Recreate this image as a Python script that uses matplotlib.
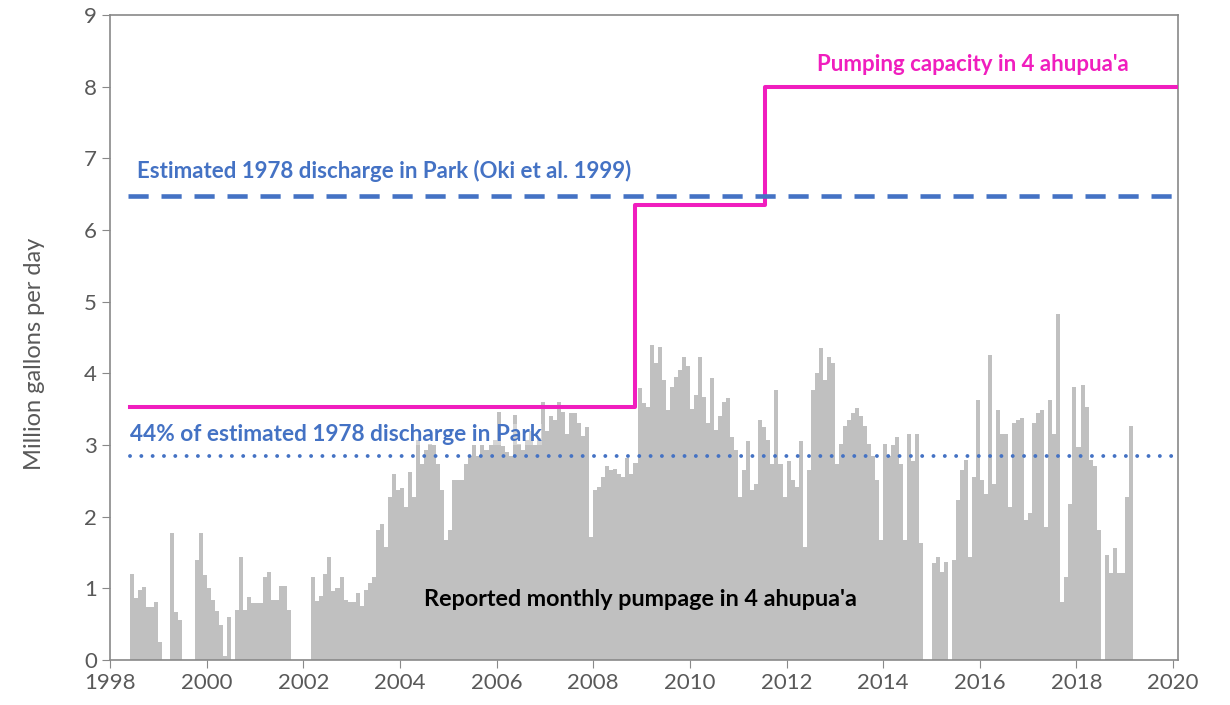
import numpy as np
import matplotlib
matplotlib.use('Agg')
import matplotlib.pyplot as plt

plt.rcParams['font.family'] = ['Lato', 'DejaVu Sans']

# monthly pumpage, first value is June 1998 (0 = no report)
start_year = 1998
start_month = 6
pumpage = [
    1.2, 0.86, 0.97, 1.02, 0.74, 0.74, 0.81,                                  # 1998
    0.25, 0, 0, 1.77, 0.67, 0.56, 0, 0, 0, 1.39, 1.77, 1.19,                  # 1999
    1.0, 0.84, 0.68, 0.49, 0.05, 0.6, 0, 0.7, 1.44, 0.7, 0.88, 0.8,           # 2000
    0.8, 0.8, 1.16, 1.23, 0.84, 0.84, 1.03, 1.03, 0.7, 0, 0, 0,               # 2001
    0, 0, 1.16, 0.82, 0.9, 1.2, 1.44, 0.96, 1.0, 1.16, 0.84, 0.81,            # 2002
    0.81, 0.93, 0.76, 0.98, 1.07, 1.16, 1.81, 1.9, 1.58, 2.28, 2.6, 2.37,     # 2003
    2.4, 2.14, 2.63, 2.28, 3.07, 2.74, 2.93, 3.02, 3.0, 2.74, 2.37, 1.67,     # 2004
    1.81, 2.51, 2.51, 2.51, 2.74, 2.84, 3.0, 2.84, 3.0, 2.93, 3.0, 3.07,      # 2005
    3.46, 2.98, 2.9, 2.84, 3.42, 3.02, 2.93, 3.07, 3.2, 3.0, 3.1, 3.6,        # 2006
    3.19, 3.4, 3.35, 3.6, 3.46, 3.15, 3.44, 3.44, 3.3, 3.12, 3.25, 1.72,      # 2007
    2.37, 2.42, 2.56, 2.7, 2.65, 2.67, 2.6, 2.56, 2.82, 2.6, 2.75, 3.8,       # 2008
    3.58, 3.53, 4.4, 4.14, 4.37, 3.91, 3.49, 3.81, 3.95, 4.05, 4.23, 4.1,     # 2009
    3.5, 3.7, 4.23, 3.67, 3.3, 3.93, 3.21, 3.4, 3.6, 3.65, 3.11, 2.93,        # 2010
    2.28, 2.65, 3.05, 2.37, 2.46, 3.35, 3.25, 3.07, 2.74, 3.77, 2.74, 2.28,   # 2011
    2.77, 2.51, 2.42, 3.05, 1.58, 2.65, 3.77, 4.0, 4.35, 3.9, 4.23, 4.14,     # 2012
    2.74, 3.02, 3.26, 3.35, 3.44, 3.51, 3.4, 3.26, 3.02, 2.84, 2.51, 1.67,    # 2013
    3.02, 2.84, 3.0, 3.11, 2.74, 1.67, 3.16, 2.77, 3.16, 1.63, 0, 0,          # 2014
    1.35, 1.44, 1.23, 1.37, 0, 1.4, 2.23, 2.65, 2.79, 1.44, 2.56, 3.63,       # 2015
    2.51, 2.32, 4.25, 2.46, 3.49, 3.16, 3.16, 2.14, 3.3, 3.35, 3.37, 1.95,    # 2016
    2.05, 3.3, 3.44, 3.49, 1.86, 3.63, 3.16, 4.83, 0.81, 1.16, 2.18, 3.81,    # 2017
    2.97, 3.84, 3.53, 2.79, 2.7, 1.81, 0, 1.46, 1.21, 1.56, 1.21, 1.21,       # 2018
    2.28, 3.26,                                                               # 2019
]

# pumping capacity steps (decimal year, mgd)
cap_years = [1998.41, 2008.87, 2011.55, 2020.1]
cap_values = [3.53, 6.35, 8.0, 8.0]

discharge_1978 = 6.47
share = 0.44

months = np.arange(len(pumpage)) + (start_month - 1)
x = start_year + months / 12.0

fig = plt.figure(figsize=(12.3, 7.05), dpi=100)
ax = fig.add_axes([0.0894, 0.0638, 0.8683, 0.915])

ax.bar(x, pumpage, width=1/12, align='edge', color='#C0C0C0', linewidth=0, zorder=1)

ax.plot(cap_years, cap_values, drawstyle='steps-post', color='#F01EBE', lw=2.9, zorder=3)
ax.plot([1998.37, 2020.1], [discharge_1978, discharge_1978], color='#4472C4', lw=3.3,
        linestyle=(0, (4.4, 2.8)), zorder=3)
ax.plot([1998.41, 2020.1], [discharge_1978 * share] * 2, color='#4472C4', lw=2.8,
        linestyle=(0, (0.01, 2.9)), dash_capstyle='round', zorder=3)

ax.text(2012.63, 8.31, "Pumping capacity in 4 ahupua'a", color='#F01EBE', fontsize=16,
        fontweight='bold', va='center', ha='left')
ax.text(1998.56, 6.82, "Estimated 1978 discharge in Park (Oki et al. 1999)", color='#4472C4',
        fontsize=16, fontweight='bold', va='center', ha='left')
ax.text(1998.41, 3.14, "44% of estimated 1978 discharge in Park", color='#4472C4',
        fontsize=16.3, fontweight='bold', va='center', ha='left', zorder=4,
        bbox=dict(facecolor='white', alpha=0.35, edgecolor='none', pad=0))
ax.text(2004.5, 0.84, "Reported monthly pumpage in 4 ahupua'a", color='black',
        fontsize=16.8, fontweight='bold', va='center', ha='left', zorder=4)

ax.set_xlim(1998, 2020.1)
ax.set_ylim(0, 9)
ax.set_xticks(range(1998, 2021, 2))
ax.set_yticks(range(0, 10))
ax.set_ylabel('Million gallons per day', color='#595959', fontsize=17)
ax.yaxis.set_label_coords(-0.061, 0.475)
ax.tick_params(colors='#595959', labelsize=16, direction='out', length=6, color='#898989')
for s in ax.spines.values():
    s.set_color('#898989')
    s.set_linewidth(1.2)

fig.savefig('out.png', dpi=100)
